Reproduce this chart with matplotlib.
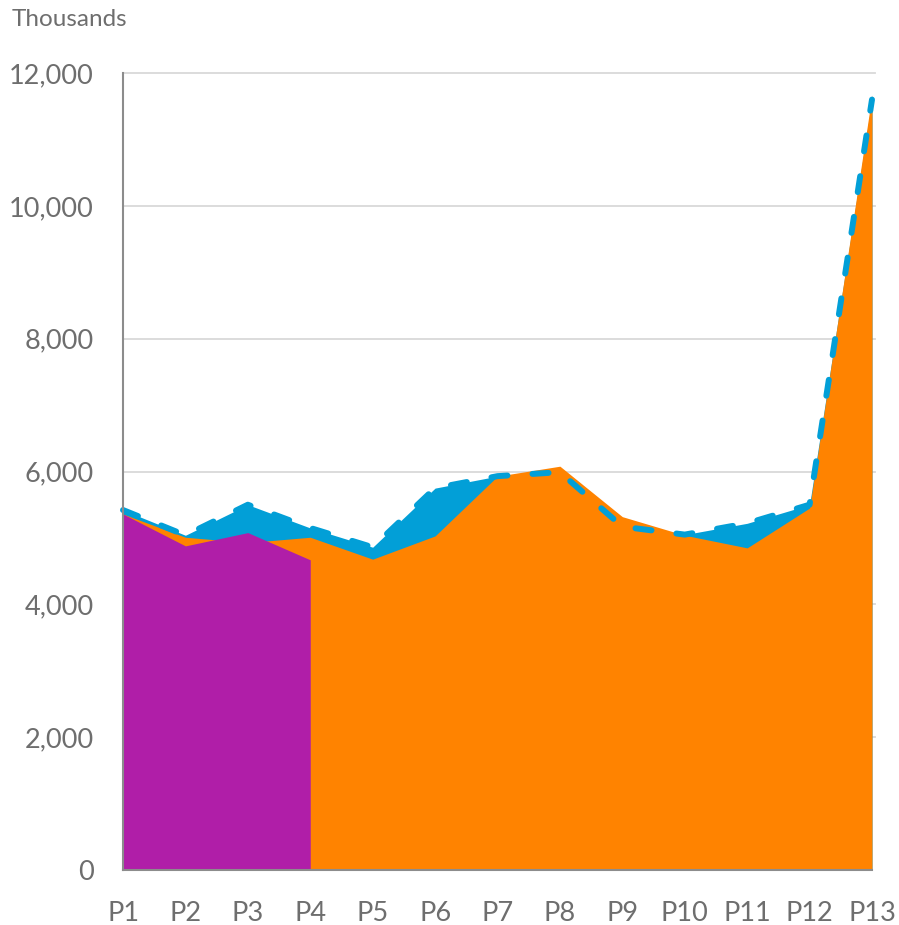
import matplotlib
matplotlib.use("Agg")
import matplotlib.pyplot as plt
import numpy as np
from matplotlib.ticker import FuncFormatter

categories = ["P1", "P2", "P3", "P4", "P5", "P6", "P7", "P8", "P9", "P10", "P11", "P12", "P13"]
blue_vals = [5420, 5040, 5500, 5150, 4860, 5750, 5930, 5990, 5170, 5050, 5220, 5500, 11600]
orange_vals = [5360, 5010, 4930, 5010, 4680, 5030, 5930, 6080, 5320, 5040, 4850, 5450, 11670]
purple_vals = [5360, 4880, 5080, 4670]

BLUE = "#029FD7"
ORANGE = "#FF8300"
PURPLE = "#B01EA8"
TXT = "#6E6E6E"

plt.rcParams['font.family'] = ['Lato', 'DejaVu Sans']

fig = plt.figure(figsize=(8.99, 9.25), dpi=100)
ax = fig.add_axes([123/899, 1-870/925, (872-123)/899, (870-73)/925])

x = np.arange(len(categories))
xp = np.arange(len(purple_vals))

ax.fill_between(x, 0, blue_vals, color=BLUE, lw=0, zorder=2)
ax.fill_between(x, 0, orange_vals, color=ORANGE, lw=0, zorder=3)
ax.fill_between(xp, 0, purple_vals, color=PURPLE, lw=0, zorder=4)
ax.plot(x, blue_vals, color=BLUE, lw=4.3, ls=(0, (2.7, 4.2)), dash_capstyle='round',
        solid_capstyle='round', zorder=5, clip_on=False)

ax.set_xlim(0, 12)
ax.set_ylim(0, 12000)
ax.set_yticks(np.arange(0, 12001, 2000))
ax.yaxis.set_major_formatter(FuncFormatter(lambda v, p: f"{int(v):,}"))
ax.set_xticks(x)
ax.set_xticklabels(categories)

for yv in np.arange(2000, 12001, 2000):
    ax.plot([0, 12.05], [yv, yv], color="#D9D9D9", lw=1.3, zorder=1, clip_on=False)

for s in ["top", "right"]:
    ax.spines[s].set_visible(False)
for s in ["left", "bottom"]:
    ax.spines[s].set_color("#8C8C8C")
    ax.spines[s].set_linewidth(1.5)
    ax.spines[s].set_zorder(6)

ax.tick_params(axis='both', length=0, colors=TXT, labelsize=19.5)
ax.tick_params(axis='y', pad=21)
ax.tick_params(axis='x', pad=22)

fig.text(12/899, 1-20/925, "Thousands", fontsize=17.5, color=TXT, va='center', ha='left')

fig.savefig("out.png", dpi=100)
